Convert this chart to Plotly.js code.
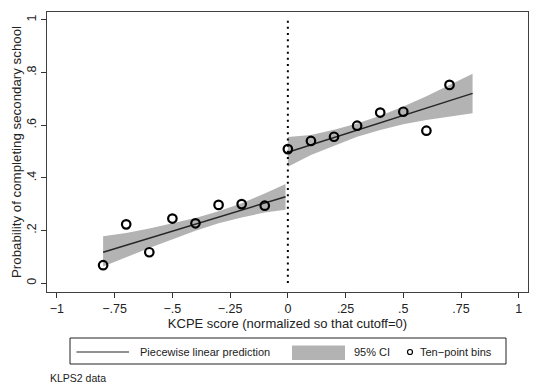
<!DOCTYPE html>
<html>
<head>
<meta charset="utf-8">
<script src="https://cdn.plot.ly/plotly-3.0.1.min.js"></script>
<style>html,body{margin:0;padding:0;background:#fff;}#chart{width:540px;height:390px;}</style>
</head>
<body>
<div id="chart"></div>
<script>
// Ten-point bins
var binX = [-0.8, -0.7, -0.6, -0.5, -0.4, -0.3, -0.2, -0.1, 0.0, 0.1, 0.2, 0.3, 0.4, 0.5, 0.6, 0.7];
var binY = [0.068, 0.223, 0.117, 0.245, 0.227, 0.297, 0.300, 0.294, 0.509, 0.540, 0.556, 0.598, 0.648, 0.651, 0.579, 0.753];

// Piecewise linear prediction (left and right of cutoff)
var fitLeftX = [-0.8, -0.01];
var fitLeftY = [0.117, 0.328];
var fitRightX = [0.0, 0.8];
var fitRightY = [0.497, 0.721];

// 95% CI bounds
var ciLeftX = [-0.8, -0.7, -0.6, -0.5, -0.4, -0.3, -0.2, -0.1, -0.01];
var ciLeftLo = [0.063, 0.098, 0.133, 0.167, 0.199, 0.227, 0.249, 0.268, 0.279];
var ciLeftHi = [0.178, 0.190, 0.207, 0.227, 0.247, 0.273, 0.303, 0.340, 0.376];
var ciRightX = [0.0, 0.1, 0.2, 0.3, 0.4, 0.5, 0.6, 0.7, 0.8];
var ciRightLo = [0.442, 0.487, 0.523, 0.556, 0.582, 0.603, 0.620, 0.633, 0.645];
var ciRightHi = [0.555, 0.563, 0.583, 0.606, 0.636, 0.671, 0.710, 0.753, 0.795];

// Axis ticks
var xTickVals = [-1, -0.75, -0.5, -0.25, 0, 0.25, 0.5, 0.75, 1];
var xTickText = ["\u22121", "\u2212.75", "\u2212.5", "\u2212.25", "0", ".25", ".5", ".75", "1"];
var yTickVals = [0, 0.2, 0.4, 0.6, 0.8, 1];
var yTickText = ["0", ".2", ".4", ".6", ".8", "1"];

var ciColor = "#b3b3b3";
var font = "Liberation Sans, Arial, sans-serif";

function band(x, lo, hi) {
  return {
    x: x.concat(x.slice().reverse()),
    y: hi.concat(lo.slice().reverse()),
    type: "scatter", mode: "lines", fill: "toself",
    fillcolor: ciColor, line: {width: 0, color: ciColor},
    hoverinfo: "skip", showlegend: false
  };
}

var traces = [
  band(ciLeftX, ciLeftLo, ciLeftHi),
  band(ciRightX, ciRightLo, ciRightHi),
  {x: fitLeftX, y: fitLeftY, type: "scatter", mode: "lines", line: {color: "#262626", width: 1.4}, showlegend: false},
  {x: fitRightX, y: fitRightY, type: "scatter", mode: "lines", line: {color: "#262626", width: 1.4}, showlegend: false},
  {x: binX, y: binY, type: "scatter", mode: "markers",
   marker: {symbol: "circle-open", size: 8.5, color: "#000", line: {width: 2.2, color: "#000"}}, showlegend: false}
];

var pw = 481, ph = 280, ml = 47, mt = 12;
function px(x) { return (x - ml) / pw; }
function py(y) { return (mt + ph - y) / ph; }

var layout = {
  width: 540, height: 390,
  margin: {l: 47, r: 12, t: 12, b: 98},
  paper_bgcolor: "#fff", plot_bgcolor: "#fff",
  font: {family: font, color: "#222", size: 12},
  showlegend: false,
  xaxis: {
    range: [-1.043, 1.04], tickvals: xTickVals, ticktext: xTickText,
    ticks: "outside", ticklen: 5, tickwidth: 1, tickcolor: "#333",
    showline: true, mirror: true, linecolor: "#404040", linewidth: 1,
    showgrid: false, zeroline: false, tickfont: {size: 12.5, color: "#222"},
    title: {text: "KCPE score (normalized so that cutoff=0)", font: {size: 13, color: "#222"}, standoff: 2}
  },
  yaxis: {
    range: [-0.034, 1.03], tickvals: yTickVals, ticktext: yTickText,
    ticks: "outside", ticklen: 5, tickwidth: 1, tickcolor: "#333",
    showline: true, mirror: true, linecolor: "#404040", linewidth: 1,
    showgrid: false, zeroline: false, tickangle: -90, tickfont: {size: 12.5, color: "#222"},
    title: {text: "Probability of completing secondary school", font: {size: 13.3, color: "#222"}, standoff: 0}
  },
  shapes: [
    {type: "line", xref: "x", yref: "y", x0: 0, x1: 0, y0: 0, y1: 1,
     line: {color: "#000", width: 2, dash: "2px,4.2px"}},
    // legend box
    {type: "rect", xref: "paper", yref: "paper", x0: px(70), x1: px(506), y0: py(338), y1: py(364),
     line: {color: "#222", width: 1}, fillcolor: "#fff"},
    {type: "line", xref: "paper", yref: "paper", x0: px(76.5), x1: px(129), y0: py(352), y1: py(352),
     line: {color: "#262626", width: 1.2}},
    {type: "rect", xref: "paper", yref: "paper", x0: px(292), x1: px(345), y0: py(345.5), y1: py(360),
     line: {color: ciColor, width: 0}, fillcolor: ciColor},
    {type: "circle", xref: "paper", yref: "paper", x0: px(407.5), x1: px(412.5), y0: py(349.5), y1: py(354.5),
     line: {color: "#000", width: 1.2}, fillcolor: "rgba(0,0,0,0)"}
  ],
  annotations: [
    {xref: "paper", yref: "paper", x: px(138), y: py(352), xanchor: "left", yanchor: "middle",
     text: "Piecewise linear prediction", showarrow: false, font: {size: 11, color: "#222"}},
    {xref: "paper", yref: "paper", x: px(352), y: py(352), xanchor: "left", yanchor: "middle",
     text: "95% CI", showarrow: false, font: {size: 11, color: "#222"}},
    {xref: "paper", yref: "paper", x: px(418), y: py(352), xanchor: "left", yanchor: "middle",
     text: "Ten\u2212point bins", showarrow: false, font: {size: 11, color: "#222"}},
    {xref: "paper", yref: "paper", x: px(48), y: py(378), xanchor: "left", yanchor: "middle",
     text: "KLPS2 data", showarrow: false, font: {size: 10.5, color: "#222"}}
  ]
};

Plotly.newPlot("chart", traces, layout, {staticPlot: true, displayModeBar: false});
</script>
</body>
</html>
